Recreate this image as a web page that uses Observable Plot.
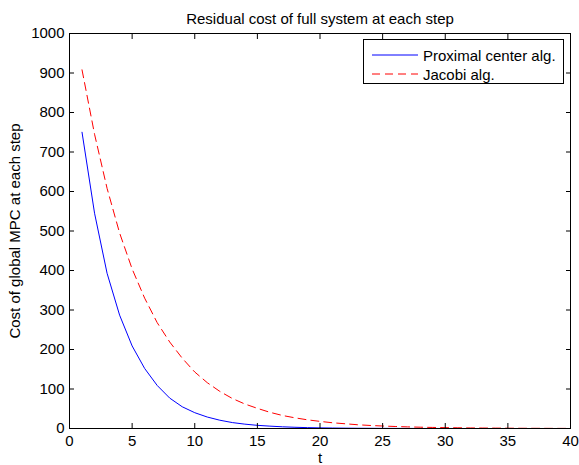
<!DOCTYPE html>
<html>
<head>
<meta charset="utf-8">
<script src="https://cdn.jsdelivr.net/npm/d3@7"></script>
<script src="https://cdn.jsdelivr.net/npm/@observablehq/plot@0.6"></script>
<style>
  html, body { margin: 0; padding: 0; background: #fff; }
  #wrap { position: relative; width: 579px; height: 465px; font-family: "Liberation Sans", Arial, Helvetica, sans-serif; }
  #legend { position: absolute; left: 363px; top: 39px; width: 201px; height: 45px; box-sizing: border-box; border: 1px solid #000; background: #fff; font-size: 15px; color: #000; }
  .row { position: absolute; left: 0; height: 18px; display: flex; align-items: center; white-space: nowrap; }
  .row svg { margin-left: 8px; margin-right: 5px; }
</style>
</head>
<body>
<div id="wrap">
  <div id="chart"></div>
  <div id="legend"></div>
</div>
<script>
const title = "Residual cost of full system at each step";
const xLabel = "t";
const yLabel = "Cost of global MPC at each step";
const seriesNames = ["Proximal center alg.", "Jacobi alg."];
const t = [1,2,3,4,5,6,7,8,9,10,11,12,13,14,15,16,17,18,19,20,21,22,23,24,25,26,27,28,29,30,31,32,33,34,35,36,37,38,39,40];
const proximal = [750,545,393,287,209,152,109,77,55,40,29,21,15,11,8,6,4.3,3.1,2.2,1.6,1.2,0.9,0.6,0.5,0.3,0.25,0.2,0.1,0.1,0.1,0.05,0,0,0,0,0,0,0,0,0];
const jacobi = [908,745,608,495,404,330,268,219,178,143,116,94,76,62,51,41,33,27,22,18,14.5,12,9.5,7.7,6.3,5.1,4.1,3.3,2.7,2.2,1.8,1.4,1.2,1.0,0.8,0.6,0.5,0.4,0.3,0.3];
const xTicks = [0,5,10,15,20,25,30,35,40];
const yTicks = [0,100,200,300,400,500,600,700,800,900,1000];

const blueRows = t.map((d, i) => ({t: d, v: proximal[i]}));
const redRows = t.map((d, i) => ({t: d, v: jacobi[i]}));

const font = "Liberation Sans, Arial, Helvetica, sans-serif";
const fmt = d => String(d);

const chart = Plot.plot({
  width: 579,
  height: 465,
  marginLeft: 69,
  marginRight: 9,
  marginTop: 33,
  marginBottom: 37,
  style: {fontSize: "15px", fontFamily: font, background: "#fff", color: "#000", overflow: "visible"},
  x: {domain: [0, 40]},
  y: {domain: [0, 1000]},
  marks: [
    Plot.line(blueRows, {x: "t", y: "v", stroke: "#0000ff", strokeWidth: 1}),
    Plot.line(redRows, {x: "t", y: "v", stroke: "#ff0000", strokeWidth: 1, strokeDasharray: "8,5"}),
    Plot.frame({stroke: "#000", strokeWidth: 1}),
    Plot.axisX({anchor: "bottom", ticks: xTicks, tickFormat: fmt, tickSize: -5, tickPadding: 12, label: null, fill: "#000"}),
    Plot.axisX({anchor: "top", ticks: xTicks, tickSize: -5, tickFormat: () => "", label: null}),
    Plot.axisY({anchor: "left", ticks: yTicks, tickFormat: fmt, tickSize: -5, tickPadding: 10, label: null, fill: "#000"}),
    Plot.axisY({anchor: "right", ticks: yTicks, tickSize: -5, tickFormat: () => "", label: null}),
    Plot.text([title], {frameAnchor: "top", dy: -20, fontSize: 15, fill: "#000"}),
    Plot.text([xLabel], {frameAnchor: "bottom", dy: 34, fontSize: 15, fill: "#000"}),
    Plot.text([yLabel], {frameAnchor: "left", textAnchor: "middle", dx: -54, rotate: -90, fontSize: 15, fill: "#000"})
  ]
});
document.getElementById("chart").appendChild(chart);

const legend = document.getElementById("legend");
const styles = [{stroke: "#0000ff", dash: ""}, {stroke: "#ff0000", dash: "8,5"}];
seriesNames.forEach((name, i) => {
  const row = document.createElement("div");
  row.className = "row";
  row.style.top = (6 + i * 19) + "px";
  row.innerHTML = `<svg width="46" height="10"><line x1="0" x2="46" y1="5" y2="5" stroke="${styles[i].stroke}" stroke-width="1" ${styles[i].dash ? `stroke-dasharray="${styles[i].dash}"` : ""}/></svg><span>${name}</span>`;
  legend.appendChild(row);
});
</script>
</body>
</html>
